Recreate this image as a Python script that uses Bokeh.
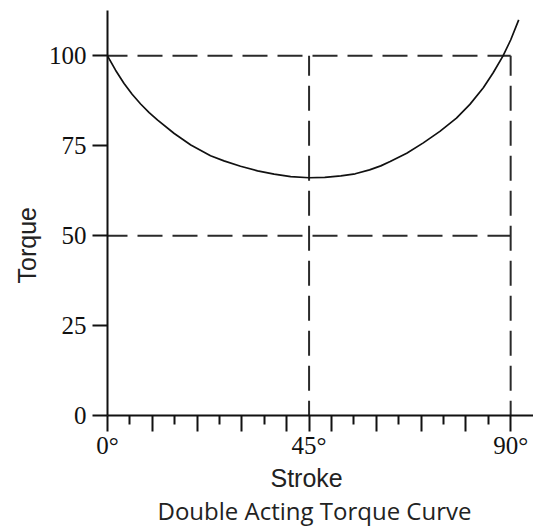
from bokeh.plotting import figure
from bokeh.models import Range1d, FixedTicker, Title, ColumnDataSource
from bokeh.embed import file_html
from bokeh.resources import INLINE

# ---- data ----
stroke_deg = [-2.5, 0.0, 1.8, 3.7, 5.5, 7.4, 9.3, 11.2, 14.9, 18.6, 23.0, 26.0,
              29.7, 33.5, 37.2, 40.9, 45.0, 48.5, 52.1, 55.3, 58.5, 61.0, 63.1,
              66.8, 70.5, 74.2, 77.9, 80.9, 83.9, 86.1, 88.3, 90.0, 91.8]
torque_pct = [106.8, 100.0, 96.0, 92.3, 89.3, 86.6, 84.2, 82.1, 78.4, 75.2, 72.2, 70.8,
              69.3, 68.0, 67.1, 66.4, 66.1, 66.2, 66.6, 67.2, 68.3, 69.4, 70.6,
              72.9, 75.8, 79.0, 82.7, 86.5, 91.1, 95.3, 100.0, 104.4, 110.0]

x_major_ticks = [0, 10, 20, 30, 40, 45, 50, 60, 70, 80, 90]
x_minor_ticks = [5, 15, 25, 35, 55, 65, 75, 85]
x_tick_labels = {0: "0°", 45: "45°", 90: "90°"}
y_ticks = [0, 25, 50, 75, 100]

ref_levels = [100, 50]      # horizontal dashed guide lines (torque)
ref_angles = [45, 90]       # vertical dashed guide lines (stroke)
stroke_start, stroke_end = 0, 90
torque_low, torque_high = 0, 100

x_label = "Stroke"
y_label = "Torque"
title_text = "Double Acting Torque Curve"

# ---- figure ----
p = figure(width=533, height=526, output_backend="svg", toolbar_location=None,
           x_range=Range1d(0, 95.1), y_range=Range1d(0, 112.6),
           min_border_left=107, min_border_right=0, min_border_top=10,
           min_border_bottom=111)
p.grid.visible = False
p.outline_line_color = None
p.background_fill_color = "white"
p.border_fill_color = "white"

# dashed guide lines
xs, ys = [], []
for lv in ref_levels:
    xs.append([stroke_start, stroke_end])
    ys.append([lv, lv])
for ang in ref_angles:
    xs.append([ang, ang])
    ys.append([torque_high, torque_low])
p.multi_line(xs=xs, ys=ys, line_color="#2a2a2a", line_width=2,
             line_dash="25 10", line_dash_offset=5)

# torque curve
src = ColumnDataSource(data=dict(x=stroke_deg, y=torque_pct))
p.line("x", "y", source=src, line_color="#111111", line_width=1.7)

# x axis
xa = p.xaxis[0]
xa.ticker = FixedTicker(ticks=x_major_ticks, minor_ticks=x_minor_ticks)
xa.major_label_overrides = {t: x_tick_labels.get(t, "") for t in x_major_ticks}
xa.axis_line_width = 2
xa.axis_line_color = "#111111"
xa.major_tick_line_width = 2
xa.major_tick_line_color = "#111111"
xa.minor_tick_line_width = 2
xa.minor_tick_line_color = "#111111"
xa.major_tick_in = 0
xa.major_tick_out = 16
xa.minor_tick_in = 0
xa.minor_tick_out = 9
xa.major_label_text_font = "Liberation Serif"
xa.major_label_text_font_size = "25px"
xa.major_label_text_color = "#111111"
xa.major_label_standoff = 0

# y axis
ya = p.yaxis[0]
ya.ticker = FixedTicker(ticks=y_ticks, minor_ticks=[])
ya.axis_line_width = 2
ya.axis_line_color = "#111111"
ya.major_tick_line_width = 2
ya.major_tick_line_color = "#111111"
ya.major_tick_in = 0
ya.major_tick_out = 15
ya.minor_tick_out = 0
ya.major_label_text_font = "Liberation Serif"
ya.major_label_text_font_size = "25px"
ya.major_label_text_color = "#111111"
ya.major_label_standoff = 6

# axis labels and caption
p.add_layout(Title(text=x_label, align="left", offset=163, text_font="Liberation Sans",
                   text_font_size="25px", text_font_style="normal",
                   text_color="#222222", standoff=0), "below")
p.add_layout(Title(text=title_text, align="left", offset=50, text_font="Open Sans",
                   text_font_size="24px", text_font_style="normal",
                   text_color="#222222", standoff=0), "below")
p.add_layout(Title(text=y_label, align="left", offset=132, text_font="Liberation Sans",
                   text_font_size="25px", text_font_style="normal",
                   text_color="#222222", standoff=10), "left")

open("out.html", "w").write(file_html(p, INLINE))
